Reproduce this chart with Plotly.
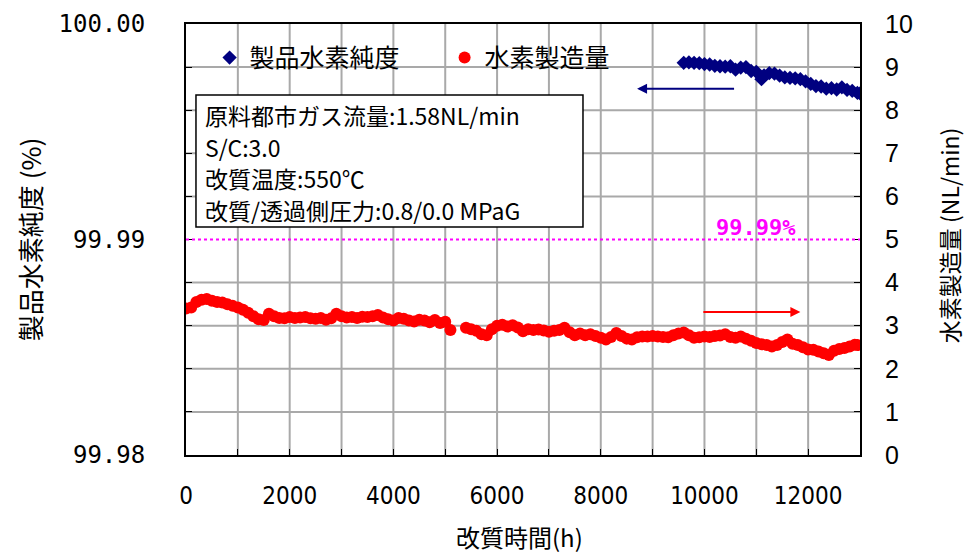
import plotly.graph_objects as go

# Operating hours and hydrogen production rate (NL/min)
prod_hours = [
    0, 100, 200, 300, 400, 500, 600, 700, 800, 900,
    1000, 1100, 1200, 1300, 1400, 1500, 1600, 1700, 1800, 1900,
    2000, 2100, 2200, 2300, 2400, 2500, 2600, 2700, 2800, 2900,
    3000, 3100, 3200, 3300, 3400, 3500, 3600, 3700, 3800, 3900,
    4000, 4100, 4200, 4300, 4400, 4500, 4600, 4700, 4800, 4900,
    5000, 5100,
    5400, 5500, 5600, 5700, 5800, 5900,
    6000, 6100, 6200, 6300, 6400, 6500, 6600, 6700, 6800, 6900,
    7000, 7100, 7200, 7300, 7400, 7500, 7600, 7700, 7800, 7900,
    8000, 8100, 8200, 8300, 8400, 8500, 8600, 8700, 8800, 8900,
    9000, 9100, 9200, 9300, 9400, 9500, 9600, 9700, 9800, 9900,
    10000, 10100, 10200, 10300, 10400, 10500, 10600, 10700, 10800, 10900,
    11000, 11100, 11200, 11300, 11400, 11500, 11600, 11700, 11800, 11900,
    12000, 12100, 12200, 12300, 12400, 12500, 12600, 12700, 12800, 12900,
    12950,
]
prod_rate = [
    3.40, 3.42, 3.55, 3.60, 3.62, 3.58, 3.55, 3.54, 3.50, 3.46,
    3.42, 3.37, 3.30, 3.22, 3.15, 3.13, 3.28, 3.22, 3.18, 3.17,
    3.20, 3.18, 3.19, 3.20, 3.17, 3.16, 3.18, 3.14, 3.17, 3.28,
    3.22, 3.19, 3.20, 3.18, 3.21, 3.20, 3.22, 3.25, 3.19, 3.15,
    3.12, 3.18, 3.16, 3.12, 3.10, 3.14, 3.12, 3.08, 3.13, 3.06,
    3.09, 2.90,
    2.95, 2.92, 2.88, 2.80, 2.78, 2.92,
    3.00, 3.02, 2.98, 3.01, 2.96, 2.87, 2.92, 2.90, 2.91, 2.89,
    2.86, 2.88, 2.90, 2.95, 2.85, 2.78, 2.82, 2.78, 2.80, 2.76,
    2.72, 2.68, 2.74, 2.83, 2.76, 2.70, 2.68, 2.73, 2.75, 2.75,
    2.76, 2.75, 2.74, 2.73, 2.78, 2.82, 2.84, 2.78, 2.72, 2.73,
    2.75, 2.74, 2.76, 2.77, 2.80, 2.74, 2.72, 2.75, 2.70, 2.65,
    2.60, 2.57, 2.55, 2.52, 2.55, 2.62, 2.68, 2.58, 2.55, 2.50,
    2.45, 2.44, 2.40, 2.36, 2.32, 2.42, 2.46, 2.48, 2.52, 2.56,
    2.55,
]

# Operating hours and product hydrogen purity (%)
purity_hours = [
    9600, 9700, 9800, 9900, 10000, 10100, 10200, 10300, 10400, 10500,
    10600, 10700, 10800, 10900, 11000, 11100, 11150, 11250, 11350, 11450,
    11550, 11650, 11750, 11850, 11950, 12050, 12150, 12250, 12350, 12450,
    12550, 12650, 12750, 12850, 12950, 13000,
]
purity = [
    99.99820, 99.99822, 99.99820, 99.99818, 99.99814, 99.99812, 99.99806, 99.99804, 99.99802, 99.99804,
    99.99788, 99.99798, 99.99800, 99.99782, 99.99778, 99.99744, 99.99762, 99.99772, 99.99770, 99.99760,
    99.99752, 99.99750, 99.99748, 99.99744, 99.99734, 99.99722, 99.99712, 99.99710, 99.99700, 99.99702,
    99.99696, 99.99706, 99.99694, 99.99690, 99.99680, 99.99678,
]

# Tick positions (every grid division) and their labels
purity_ticks = [99.980, 99.982, 99.984, 99.986, 99.988, 99.990,
                99.992, 99.994, 99.996, 99.998, 100.000]
purity_ticktext = ["99.98", "", "", "", "", "99.99", "", "", "", "", "100.00"]
rate_ticks = [0, 1, 2, 3, 4, 5, 6, 7, 8, 9, 10]
hour_ticks = [0, 1000, 2000, 3000, 4000, 5000, 6000, 7000, 8000, 9000,
              10000, 11000, 12000, 13000]
hour_ticktext = ["0", "", "2000", "", "4000", "", "6000", "", "8000", "",
                 "10000", "", "12000", ""]
target_purity = 99.99

condition_lines = [
    "原料都市ガス流量:1.58NL/min",
    "S/C:3.0",
    "改質温度:550℃",
    "改質/透過側圧力:0.8/0.0 MPaG",
]

CJK = "Noto Sans CJK JP"
MONO = "DejaVu Sans Mono"
NARROW = "Liberation Sans Narrow, DejaVu Sans Condensed, sans-serif"
GRID = "#a9a9a9"

x_lo, x_hi = hour_ticks[0], hour_ticks[-1]
y_lo, y_hi = purity_ticks[0], purity_ticks[-1]

# Grid lines as a background line trace on the main axes
grid_x, grid_y = [], []
for h in hour_ticks[1:-1]:
    grid_x += [h, h, None]
    grid_y += [y_lo, y_hi, None]
for p in purity_ticks[1:-1]:
    if p == target_purity:
        continue
    grid_x += [x_lo, x_hi, None]
    grid_y += [p, p, None]

fig = go.Figure()

fig.add_trace(go.Scatter(
    x=grid_x, y=grid_y, mode="lines", showlegend=False, hoverinfo="skip",
    line=dict(color=GRID, width=2), yaxis="y",
))
fig.add_trace(go.Scatter(
    x=purity_hours, y=purity, name="製品水素純度", mode="markers",
    marker=dict(symbol="diamond", size=11, color="#000080"),
    yaxis="y",
))
fig.add_trace(go.Scatter(
    x=prod_hours, y=prod_rate, name="水素製造量", mode="markers",
    marker=dict(symbol="circle", size=12, color="#ff0000"),
    yaxis="y2",
))

# 99.99% reference line
fig.add_shape(type="line", xref="paper", x0=0, x1=1, yref="y",
              y0=target_purity, y1=target_purity,
              line=dict(color="#ff00ff", width=2, dash="dot"))
fig.add_annotation(xref="paper", yref="y", x=0.845, y=target_purity,
                   xanchor="center", yanchor="bottom", yshift=-2, showarrow=False,
                   text="<b>99.99%</b>",
                   font=dict(family=MONO, size=22, color="#ff00ff"))

# Axis-direction arrows
fig.add_annotation(xref="x", yref="y2", x=8700, y=8.5, ax=10600, ay=8.5,
                   axref="x", ayref="y2", showarrow=True, text="",
                   arrowhead=2, arrowsize=1, arrowwidth=2, arrowcolor="#000080")
fig.add_annotation(xref="x", yref="y2", x=11850, y=3.32, ax=9950, ay=3.32,
                   axref="x", ayref="y2", showarrow=True, text="",
                   arrowhead=2, arrowsize=1, arrowwidth=2, arrowcolor="#ff0000")

# Operating conditions box
fig.add_shape(type="rect", xref="paper", yref="paper",
              x0=0.0148, x1=0.589, y0=0.529, y1=0.835,
              line=dict(color="black", width=1.5), fillcolor="white", layer="above")
line_y = [0.789, 0.715, 0.642, 0.568]
for txt, yy in zip(condition_lines, line_y):
    fig.add_annotation(xref="paper", yref="paper", x=0.025, y=yy,
                       xanchor="left", yanchor="middle", showarrow=False,
                       text=txt, font=dict(family=CJK, size=23, color="black"))

# Axis titles
fig.add_annotation(xref="paper", yref="paper", x=-0.232, y=0.5, textangle=-90,
                   xanchor="center", yanchor="middle",
                   showarrow=False, text="製品水素純度 (%)",
                   font=dict(family=CJK, size=26, color="black"))
fig.add_annotation(xref="paper", yref="paper", x=1.132, y=0.51, textangle=-90,
                   xanchor="center", yanchor="middle",
                   showarrow=False, text="水素製造量 (NL/min)",
                   font=dict(family=CJK, size=23, color="black"))
fig.add_annotation(xref="paper", yref="paper", x=0.4955, y=-0.19,
                   xanchor="center", yanchor="middle",
                   showarrow=False, text="改質時間(h)",
                   font=dict(family=CJK, size=24, color="black"))

fig.update_layout(
    template="none",
    width=968, height=555,
    margin=dict(l=186, r=108, t=24, b=100),
    paper_bgcolor="white", plot_bgcolor="white",
    showlegend=True,
    legend=dict(orientation="h", x=0.035, y=0.975, xanchor="left", yanchor="top",
                bgcolor="rgba(0,0,0,0)", font=dict(family=CJK, size=25, color="black"),
                itemwidth=30, entrywidth=190, tracegroupgap=0),
    xaxis=dict(
        range=[x_lo, x_hi], tickmode="array", tickvals=hour_ticks, ticktext=hour_ticktext,
        ticks="inside", ticklen=6, tickcolor="black", tickwidth=1,
        showgrid=False,
        showline=True, linecolor="black", linewidth=2, mirror=True,
        tickfont=dict(family=NARROW, size=24, color="black"),
        ticklabelstandoff=18, zeroline=False,
    ),
    yaxis=dict(
        range=[y_lo, y_hi], tickmode="array", tickvals=purity_ticks, ticktext=purity_ticktext,
        ticks="inside", ticklen=6, tickcolor="black", tickwidth=1,
        showgrid=False,
        showline=True, linecolor="black", linewidth=2, mirror=False,
        tickfont=dict(family=MONO, size=24, color="black"),
        ticklabelstandoff=34, zeroline=False,
    ),
    yaxis2=dict(
        range=[0, 10], tickmode="array", tickvals=rate_ticks, overlaying="y", side="right",
        ticks="inside", ticklen=6, tickcolor="black", tickwidth=1,
        showgrid=False,
        showline=True, linecolor="black", linewidth=2,
        tickfont=dict(family="Liberation Sans", size=25, color="black"),
        ticklabelstandoff=18, zeroline=False,
    ),
)

fig.write_html("out.html")
